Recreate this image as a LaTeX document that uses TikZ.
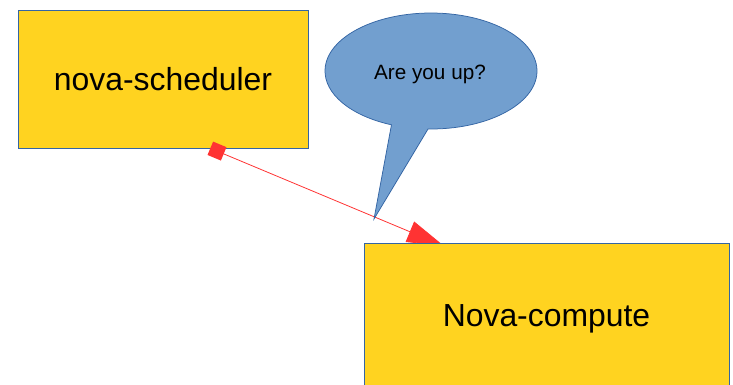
\documentclass[tikz,border=0pt]{standalone}
\usepackage{fontspec}
\setmainfont{Liberation Sans}
\usetikzlibrary{arrows.meta}
\definecolor{boxfill}{HTML}{FFD320}
\definecolor{boxline}{HTML}{3465A4}
\definecolor{bubblefill}{HTML}{729FCF}
\definecolor{linkred}{HTML}{FF3333}
\begin{document}
\begin{tikzpicture}[x=1pt,y=1pt,
  procbox/.style={draw=boxline, fill=boxfill, line width=0.75pt, inner sep=0pt,
    font=\fontsize{31.9}{36}\selectfont},
  bubbleshape/.style={draw=boxline, fill=bubblefill, line width=0.75pt, line join=miter},
  bubbletext/.style={inner sep=0pt, font=\fontsize{20.7}{24}\selectfont},
  link/.style={draw=linkred, line width=0.8pt,
    -{Triangle[length=37pt, width=22pt, color=linkred]}},
  endsquare/.style={fill=linkred, minimum size=14.5pt, inner sep=0pt}
]
\useasboundingbox (0,0) rectangle (733,384);
\clip (0,0) rectangle (733,384);

% scheduler box
\node[procbox, minimum width=290pt, minimum height=138pt] (sched) at (163,305) {nova-scheduler};

% compute box geometry (drawn after the link so it covers the arrow tip)
\coordinate (compN) at (546.5,141);

% request link with square start marker
\coordinate (linkA) at ([xshift=54pt, yshift=-2.7pt]sched.south);
\coordinate (linkB) at ([xshift=-102.5pt, yshift=-3pt]compN);
\draw[link] (linkA) -- (linkB) node[pos=0, sloped, endsquare] {};

% compute box
\node[procbox, minimum width=365pt, minimum height=151.4pt, anchor=north] (comp) at (compN) {Nova-compute};

% speech bubble
\path[bubbleshape] (431pt,313pt) ++(268.4:106pt and 58pt)
  arc[start angle=268.4, end angle=608.1, x radius=106pt, y radius=58pt]
  -- (374,165) -- cycle;
\node[bubbletext] (bubble) at (430,310) {Are you up?};
\end{tikzpicture}
\end{document}
